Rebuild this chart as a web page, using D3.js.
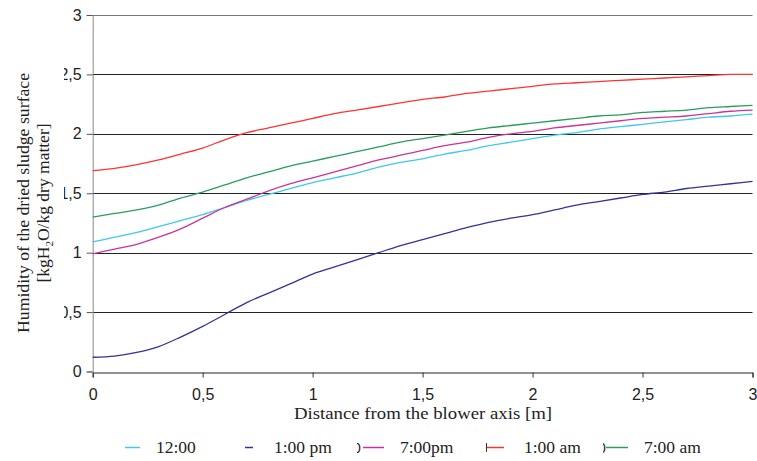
<!DOCTYPE html>
<html>
<head>
<meta charset="utf-8">
<script src="https://cdn.jsdelivr.net/npm/d3@7/dist/d3.min.js"></script>
<style>
  html, body { margin: 0; padding: 0; background: #fff; }
  svg { display: block; }
</style>
</head>
<body>
<svg id="chart" width="757" height="461"></svg>
<script>
// ---- data ----
const distance = [0,0.1,0.2,0.3,0.4,0.5,0.6,0.7,0.8,0.9,1.0,1.1,1.2,1.3,1.4,1.5,1.6,1.7,1.8,1.9,2.0,2.1,2.2,2.3,2.4,2.5,2.6,2.7,2.8,2.9,3.0];
const seriesNames = ["12:00", "1:00 pm", "7:00pm", "1:00 am", "7:00 am"];
const h1200 = [1.09,1.13,1.17,1.22,1.27,1.32,1.38,1.44,1.49,1.54,1.59,1.63,1.67,1.72,1.76,1.79,1.83,1.86,1.90,1.93,1.96,1.99,2.01,2.04,2.06,2.08,2.10,2.12,2.14,2.15,2.165];
const h0100pm = [0.12,0.13,0.16,0.21,0.29,0.38,0.48,0.58,0.66,0.74,0.82,0.88,0.94,1.00,1.06,1.11,1.16,1.21,1.255,1.29,1.32,1.36,1.40,1.43,1.46,1.49,1.51,1.54,1.56,1.58,1.60];
const h0700pm = [0.99,1.03,1.07,1.13,1.20,1.29,1.38,1.45,1.52,1.58,1.63,1.68,1.73,1.78,1.82,1.86,1.90,1.93,1.97,2.00,2.02,2.05,2.07,2.09,2.11,2.13,2.14,2.15,2.17,2.19,2.20];
const h0100am = [1.69,1.71,1.74,1.78,1.83,1.88,1.95,2.01,2.05,2.09,2.13,2.17,2.20,2.23,2.26,2.29,2.31,2.34,2.36,2.38,2.40,2.42,2.43,2.44,2.45,2.46,2.47,2.48,2.49,2.50,2.50];
const h0700am = [1.30,1.33,1.36,1.40,1.46,1.51,1.57,1.63,1.68,1.73,1.77,1.81,1.85,1.89,1.93,1.96,1.99,2.02,2.05,2.07,2.09,2.11,2.13,2.15,2.16,2.18,2.19,2.20,2.22,2.23,2.24];
const xTicks = [0,0.5,1,1.5,2,2.5,3];
const yTicks = [0,0.5,1,1.5,2,2.5,3];
const xTitle = "Distance from the blower axis [m]";
const yTitle1 = "Humidity of the dried sludge surface";
const colors = ["#3fc8ee", "#333399", "#cc3399", "#ff3333", "#2a9d5c"];
const values = [h1200, h0100pm, h0700pm, h0100am, h0700am];

// ---- layout ----
const svg = d3.select("#chart");
const x = d3.scaleLinear().domain([0, 3]).range([92.7, 752.5]);
const y = d3.scaleLinear().domain([0, 3]).range([371.5, 15]);
const fmt = d => String(d).replace(".", ",");
const serif = "'Liberation Serif', 'Times New Roman', serif";
const sans = "'Liberation Sans', Arial, sans-serif";

// gridlines
svg.append("g").selectAll("line").data(yTicks.filter(d => d > 0)).join("line")
  .attr("x1", x(0)).attr("x2", x(3))
  .attr("y1", d => Math.round(y(d)) + 0.5).attr("y2", d => Math.round(y(d)) + 0.5)
  .attr("stroke", d => d === 3 ? "#777" : "#222").attr("stroke-width", 1);

// y axis (labels partly cut off at the left, as in reference)
const defs = svg.append("defs");
defs.append("clipPath").attr("id", "yclip").append("rect")
  .attr("x", 64).attr("y", 0).attr("width", 40).attr("height", 461);
const yWrap = svg.append("g").attr("clip-path", "url(#yclip)");
const yAxis = yWrap.append("g")
  .attr("transform", `translate(${x(0)},0)`)
  .call(d3.axisLeft(y).tickValues(yTicks).tickFormat(fmt).tickSize(6).tickPadding(5));
yAxis.select(".domain").attr("stroke", "#888");
yAxis.selectAll(".tick line").attr("stroke", "#555");
yAxis.selectAll(".tick text").attr("font-family", sans)
  .attr("font-size", 16).attr("fill", "#222");

// x axis
const xAxis = svg.append("g")
  .attr("transform", `translate(0,${Math.round(y(0)) + 0.5})`)
  .call(d3.axisBottom(x).tickValues(xTicks).tickFormat(fmt).tickSize(5).tickPadding(11));
xAxis.select(".domain").attr("stroke", "#222");
xAxis.selectAll(".tick line").attr("stroke", "#333");
xAxis.selectAll(".tick text").attr("font-family", sans)
  .attr("font-size", 16).attr("fill", "#222");

// lines
const line = d3.line().x((d, i) => x(distance[i])).y(d => y(d)).curve(d3.curveMonotoneX);
svg.append("g").selectAll("path").data(values).join("path")
  .attr("d", d => line(d))
  .attr("fill", "none")
  .attr("stroke", (d, i) => colors[i])
  .attr("stroke-width", 1.3);

// titles
svg.append("text")
  .attr("x", 423).attr("y", 419)
  .attr("text-anchor", "middle")
  .attr("font-family", serif)
  .attr("font-size", 17.5).attr("fill", "#222")
  .attr("textLength", 258).attr("lengthAdjust", "spacingAndGlyphs")
  .text(xTitle);

svg.append("text")
  .attr("transform", "translate(29,203) rotate(-90)")
  .attr("text-anchor", "middle")
  .attr("font-family", serif)
  .attr("font-size", 17.5).attr("fill", "#222")
  .attr("textLength", 260).attr("lengthAdjust", "spacingAndGlyphs")
  .text(yTitle1);

const t2 = svg.append("text")
  .attr("transform", "translate(49,203) rotate(-90)")
  .attr("text-anchor", "middle")
  .attr("font-family", serif)
  .attr("font-size", 17.5).attr("fill", "#222");
t2.append("tspan").text("[kgH");
t2.append("tspan").attr("font-size", 11).attr("dy", 4).text("2");
t2.append("tspan").attr("dy", -4).text("O/kg dry matter]");

// legend
const legendItems = [
  {x1: 125, x2: 140, tx: 156},
  {x1: 245, x2: 253, tx: 274},
  {x1: 363, x2: 384, tx: 400},
  {x1: 487, x2: 504, tx: 524},
  {x1: 606, x2: 628, tx: 644}
];
const leg = svg.append("g");
legendItems.forEach((it, i) => {
  leg.append("line").attr("x1", it.x1).attr("x2", it.x2)
    .attr("y1", 447.5).attr("y2", 447.5)
    .attr("stroke", colors[i]).attr("stroke-width", 1.5);
  leg.append("text").attr("x", it.tx).attr("y", 453)
    .attr("font-family", serif)
    .attr("font-size", 17.5).attr("fill", "#222")
    .text(seriesNames[i]);
});
// small marker remnants in the legend
defs.append("clipPath").attr("id", "c0").append("rect").attr("x", 357).attr("y", 435).attr("width", 5).attr("height", 20);
defs.append("clipPath").attr("id", "c1").append("rect").attr("x", 603).attr("y", 435).attr("width", 4).attr("height", 20);
leg.append("text").attr("x", 353).attr("y", 453).attr("clip-path", "url(#c0)")
  .attr("font-family", sans).attr("font-size", 14).attr("fill", "#222").text("0");
leg.append("text").attr("x", 598).attr("y", 453).attr("clip-path", "url(#c1)")
  .attr("font-family", sans).attr("font-size", 14).attr("fill", "#222").text("0");
leg.append("line").attr("x1", 486.5).attr("x2", 486.5).attr("y1", 443).attr("y2", 452)
  .attr("stroke", "#333").attr("stroke-width", 1);
</script>
</body>
</html>
